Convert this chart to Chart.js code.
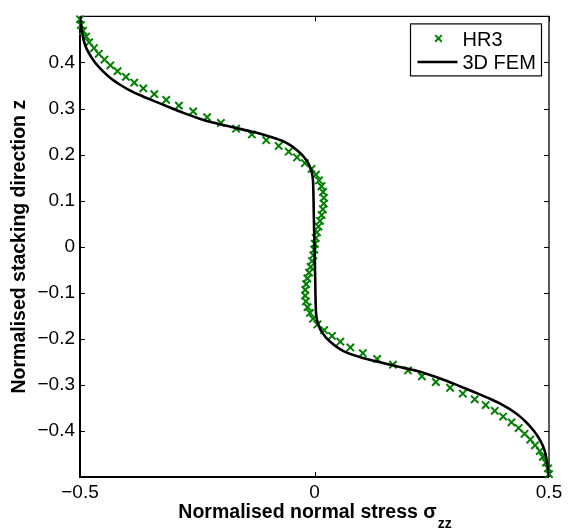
<!DOCTYPE html>
<html>
<head>
<meta charset="utf-8">
<script src="https://cdn.jsdelivr.net/npm/chart.js@4/dist/chart.umd.min.js"></script>
<style>
  html, body { margin: 0; padding: 0; background: #fff; }
  canvas { display: block; }
</style>
</head>
<body>
<canvas id="stress" width="569" height="531"></canvas>
<script>
// Through-thickness normal stress: HR3 model (markers) against 3D FEM (line)
const seriesNames = ['HR3', '3D FEM'];

const hr3Z = [
  0.49375, 0.48125, 0.46875, 0.45625, 0.44375, 0.43125, 0.41875, 0.40625, 0.39375, 0.38125,
  0.36875, 0.35625, 0.34375, 0.33125, 0.31875, 0.30625, 0.29375, 0.28125, 0.26875, 0.25625,
  0.24375, 0.23125, 0.21875, 0.20625, 0.19375, 0.18125, 0.16875, 0.15625, 0.14375, 0.13125,
  0.11875, 0.10625, 0.09375, 0.08125, 0.06875, 0.05625, 0.04375, 0.03125, 0.01875, 0.00625,
  -0.00625, -0.01875, -0.03125, -0.04375, -0.05625, -0.06875, -0.08125, -0.09375, -0.10625, -0.11875,
  -0.13125, -0.14375, -0.15625, -0.16875, -0.18125, -0.19375, -0.20625, -0.21875, -0.23125, -0.24375,
  -0.25625, -0.26875, -0.28125, -0.29375, -0.30625, -0.31875, -0.33125, -0.34375, -0.35625, -0.36875,
  -0.38125, -0.39375, -0.40625, -0.41875, -0.43125, -0.44375, -0.45625, -0.46875, -0.48125, -0.49375
];
const hr3Stress = [
  -0.500, -0.498, -0.4935, -0.487, -0.4804, -0.4702, -0.4601, -0.4479, -0.4352, -0.4200,
  -0.4021, -0.3844, -0.3650, -0.3416, -0.3162, -0.2891, -0.2587, -0.2290, -0.1995, -0.1672,
  -0.1336, -0.1030, -0.0764, -0.0550, -0.0373, -0.0205, -0.0063, 0.0031, 0.0096, 0.0148,
  0.0183, 0.0200, 0.0197, 0.0178, 0.0152, 0.0116, 0.0083, 0.0053, 0.0027, 0.0006,
  -0.0006, -0.0027, -0.0053, -0.0083, -0.0116, -0.0152, -0.0178, -0.0197, -0.0200, -0.0183,
  -0.0148, -0.0096, -0.0031, 0.0063, 0.0205, 0.0373, 0.0550, 0.0764, 0.1030, 0.1336,
  0.1672, 0.1995, 0.2290, 0.2587, 0.2891, 0.3162, 0.3416, 0.3650, 0.3844, 0.4021,
  0.4200, 0.4352, 0.4479, 0.4601, 0.4702, 0.4804, 0.4870, 0.4935, 0.4980, 0.5000
];

const femZ = [
  0.50, 0.49, 0.48, 0.47, 0.46, 0.45, 0.44, 0.43, 0.42, 0.41,
  0.40, 0.39, 0.38, 0.37, 0.36, 0.35, 0.34, 0.33, 0.32, 0.31,
  0.30, 0.29, 0.28, 0.27, 0.26, 0.25, 0.24, 0.23, 0.22, 0.21,
  0.20, 0.19, 0.18, 0.17, 0.16, 0.15, 0.14, 0.12, 0.10, 0.08,
  0.06, 0.04, 0.02, 0.00,
  -0.02, -0.04, -0.06, -0.08, -0.10, -0.12, -0.14, -0.15, -0.16, -0.17,
  -0.18, -0.19, -0.20, -0.21, -0.22, -0.23, -0.24, -0.25, -0.26, -0.27,
  -0.28, -0.29, -0.30, -0.31, -0.32, -0.33, -0.34, -0.35, -0.36, -0.37,
  -0.38, -0.39, -0.40, -0.41, -0.42, -0.43, -0.44, -0.45, -0.46, -0.47,
  -0.48, -0.49, -0.50
];
const femStress = [
  -0.5000, -0.4993, -0.4978, -0.4962, -0.4945, -0.4925, -0.4897, -0.4860, -0.4808, -0.4748,
  -0.4680, -0.4595, -0.4502, -0.4396, -0.4270, -0.4120, -0.3950, -0.3740, -0.3510, -0.3270,
  -0.3030, -0.2780, -0.2510, -0.2190, -0.1770, -0.1350, -0.0980, -0.0690, -0.0510, -0.0380,
  -0.0270, -0.0190, -0.0125, -0.0085, -0.0055, -0.0038, -0.0030, -0.0024, -0.0020, -0.0017,
  -0.0013, -0.0009, -0.0004, 0.0000,
  0.0004, 0.0009, 0.0013, 0.0017, 0.0020, 0.0024, 0.0030, 0.0038, 0.0055, 0.0085,
  0.0125, 0.0190, 0.0270, 0.0380, 0.0510, 0.0690, 0.0980, 0.1350, 0.1770, 0.2190,
  0.2510, 0.2780, 0.3030, 0.3270, 0.3510, 0.3740, 0.3950, 0.4120, 0.4270, 0.4396,
  0.4502, 0.4595, 0.4680, 0.4748, 0.4808, 0.4860, 0.4897, 0.4925, 0.4945, 0.4962,
  0.4978, 0.4993, 0.5000
];

const xTickValues = [-0.5, 0, 0.5];
const yTickValues = [-0.4, -0.3, -0.2, -0.1, 0, 0.1, 0.2, 0.3, 0.4];
const xTitleMain = 'Normalised normal stress \u03C3';
const xTitleSub = 'zz';
const yTitle = 'Normalised stacking direction z';

const GREEN = '#008000';
const FONT = '"Liberation Sans", Arial, Helvetica, sans-serif';

function fmtTick(v) {
  if (Math.abs(v) < 1e-9) return '0';
  return (v < 0 ? '\u2212' : '') + Math.abs(v).toFixed(1);
}

function drawCross(ctx, cx, cy, h) {
  ctx.beginPath();
  ctx.moveTo(cx - h, cy - h); ctx.lineTo(cx + h, cy + h);
  ctx.moveTo(cx - h, cy + h); ctx.lineTo(cx + h, cy - h);
  ctx.stroke();
}

// Box, inward tick marks, axis titles and legend
const axesDecor = {
  id: 'axesDecor',
  beforeDatasetsDraw(chart) {
    const { ctx, chartArea: a, scales: { x, y } } = chart;
    ctx.save();
    ctx.strokeStyle = '#000';
    ctx.lineWidth = 1;
    ctx.beginPath();
    yTickValues.forEach(v => {
      const p = Math.round(y.getPixelForValue(v)) + 0.5;
      ctx.moveTo(a.left, p); ctx.lineTo(a.left + 5, p);
      ctx.moveTo(a.right, p); ctx.lineTo(a.right - 5, p);
    });
    xTickValues.forEach(v => {
      const p = Math.round(x.getPixelForValue(v)) + 0.5;
      ctx.moveTo(p, a.bottom); ctx.lineTo(p, a.bottom - 5);
      ctx.moveTo(p, a.top); ctx.lineTo(p, a.top + 5);
    });
    ctx.stroke();
    // top and right edges
    ctx.lineWidth = 1.3;
    ctx.beginPath();
    ctx.moveTo(a.left, a.top); ctx.lineTo(a.right, a.top); ctx.lineTo(a.right, a.bottom);
    ctx.stroke();
    // left and bottom axes
    ctx.lineWidth = 2;
    ctx.beginPath();
    ctx.moveTo(a.left, a.top); ctx.lineTo(a.left, a.bottom); ctx.lineTo(a.right, a.bottom);
    ctx.stroke();
    ctx.restore();
  },
  afterDraw(chart) {
    const { ctx, chartArea: a } = chart;
    ctx.save();
    ctx.fillStyle = '#000';

    // x-axis title with subscript
    ctx.textBaseline = 'alphabetic';
    ctx.textAlign = 'left';
    const mainFont = 'bold 19.5px ' + FONT;
    const subFont = 'bold 14px ' + FONT;
    ctx.font = mainFont;
    const wMain = ctx.measureText(xTitleMain).width;
    ctx.font = subFont;
    const wSub = ctx.measureText(xTitleSub).width;
    const cx = (a.left + a.right) / 2;
    const x0 = cx - (wMain + wSub) / 2;
    ctx.font = mainFont;
    ctx.fillText(xTitleMain, x0, 518);
    ctx.font = subFont;
    ctx.fillText(xTitleSub, x0 + wMain + 1, 528);

    // y-axis title
    ctx.save();
    ctx.translate(25, (a.top + a.bottom) / 2);
    ctx.rotate(-Math.PI / 2);
    ctx.font = mainFont;
    ctx.textAlign = 'center';
    ctx.fillText(yTitle, 0, 0);
    ctx.restore();

    // legend
    const bx = a.right - 138.5, by = a.top + 7.5, bw = 131, bh = 52;
    ctx.fillStyle = '#fff';
    ctx.fillRect(bx, by, bw, bh);
    ctx.strokeStyle = '#000';
    ctx.lineWidth = 1.2;
    ctx.strokeRect(bx, by, bw, bh);

    ctx.strokeStyle = GREEN;
    ctx.lineWidth = 2;
    drawCross(ctx, bx + 28, by + 14.5, 3.3);

    ctx.strokeStyle = '#000';
    ctx.lineWidth = 2.5;
    ctx.beginPath();
    ctx.moveTo(bx + 7, by + 38); ctx.lineTo(bx + 47, by + 38);
    ctx.stroke();

    ctx.fillStyle = '#000';
    ctx.font = '20px ' + FONT;
    ctx.textAlign = 'left';
    ctx.textBaseline = 'alphabetic';
    ctx.fillText(seriesNames[0], bx + 52, by + 22);
    ctx.fillText(seriesNames[1], bx + 52, by + 45.5);
    ctx.restore();
  }
};

const hr3Points = hr3Z.map((z, i) => ({ x: hr3Stress[i], y: z }));
const femPoints = femZ.map((z, i) => ({ x: femStress[i], y: z }));

new Chart(document.getElementById('stress'), {
  type: 'scatter',
  data: {
    datasets: [
      {
        label: seriesNames[0],
        data: hr3Points,
        showLine: false,
        pointStyle: 'crossRot',
        pointRadius: 5.2,
        pointBorderWidth: 2,
        borderColor: GREEN,
        backgroundColor: GREEN,
        order: 2,
        clip: false
      },
      {
        label: seriesNames[1],
        data: femPoints,
        showLine: true,
        pointRadius: 0,
        borderColor: '#000',
        borderWidth: 2.6,
        tension: 0.3,
        order: 1
      }
    ]
  },
  options: {
    responsive: false,
    animation: false,
    devicePixelRatio: 1,
    layout: { padding: { top: 10, right: 20, left: 0, bottom: 0 } },
    plugins: {
      legend: { display: false },
      tooltip: { enabled: false }
    },
    scales: {
      x: {
        type: 'linear',
        min: -0.5, max: 0.5,
        grid: { display: false, drawTicks: false },
        border: { display: false },
        afterBuildTicks: s => { s.ticks = xTickValues.map(v => ({ value: v })); },
        afterFit: s => { s.height = 54; },
        ticks: {
          padding: 4,
          maxRotation: 0,
          color: '#000',
          font: { family: FONT, size: 19 },
          callback: v => fmtTick(v)
        }
      },
      y: {
        type: 'linear',
        min: -0.5, max: 0.5,
        grid: { display: false, drawTicks: false },
        border: { display: false },
        afterBuildTicks: s => { s.ticks = yTickValues.map(v => ({ value: v })); },
        afterFit: s => { s.width = 80; },
        ticks: {
          padding: 5,
          color: '#000',
          font: { family: FONT, size: 19 },
          callback: v => fmtTick(v)
        }
      }
    }
  },
  plugins: [axesDecor]
});
</script>
</body>
</html>
